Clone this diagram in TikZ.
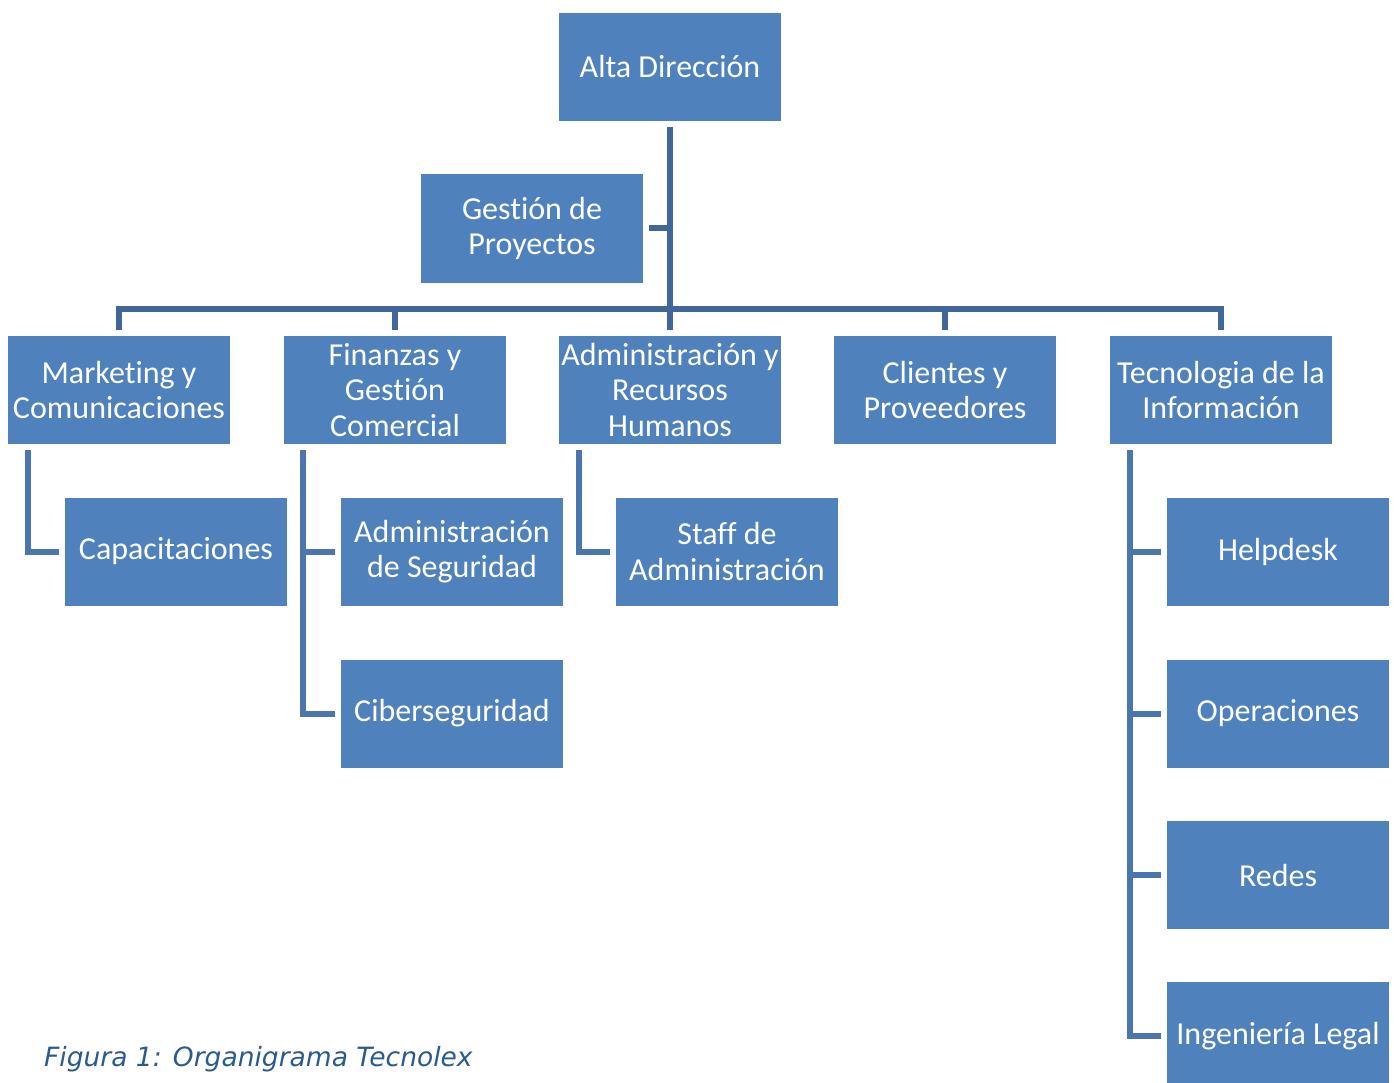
\documentclass[tikz,border=0pt]{standalone}
\usepackage{fontspec}
\setmainfont{Carlito}[RawFeature=-liga]
\newfontfamily\captionfont{DejaVu Sans}
\definecolor{boxfill}{HTML}{4F81BD}
\definecolor{trunk}{HTML}{41679A}
\definecolor{branch}{HTML}{4A76AD}
\definecolor{captxt}{HTML}{2A5A8F}
\begin{document}
\begin{tikzpicture}[x=1pt,y=-1pt,
  unit/.style={rectangle, fill=boxfill, text=white, minimum width=222pt, minimum height=108pt,
    inner sep=0pt, align=center, font=\fontsize{32}{35.5}\selectfont},
  conn/.style={draw=trunk, line width=6pt},
  sub/.style={draw=branch, line width=6pt}]
\useasboundingbox (0,0) rectangle (1394,1083);

% top level
\node[unit] (alta) at (670,67) {Alta Dirección};
\node[unit] (gp) at (532,228.5) {Gestión de\\Proyectos};

% departments
\node[unit] (mk)  at (119,390) {Marketing y\\Comunicaciones};
\node[unit] (fin) at (395,390) {Finanzas y\\Gestión\\Comercial};
\node[unit] (adm) at (670,390) {Administración y\\Recursos\\Humanos};
\node[unit] (cli) at (945,390) {Clientes y\\Proveedores};
\node[unit] (ti)  at (1221,390) {Tecnologia de la\\Información};

% sub-units
\node[unit] (cap)   at (176,551.5) {Capacitaciones};
\node[unit] (aseg)  at (452,551.5) {Administración\\de Seguridad};
\node[unit] (ciber) at (452,713.5) {Ciberseguridad};
\node[unit] (staff) at (727,551.5) {Staff de\\Administración};
\node[unit] (help)  at (1278,551.5) {Helpdesk};
\node[unit] (oper)  at (1278,713.5) {Operaciones};
\node[unit] (redes) at (1278,875) {Redes};
\node[unit] (legal) at (1278,1036) {Ingeniería Legal};

% trunk and bus
\coordinate (bus) at (670,309);
\draw[conn] ([yshift=-6pt]alta.south) -- (bus);
\draw[conn] ([xshift=6pt]gp.east) -- (gp.east -| bus);
\draw[conn] ([yshift=6pt]mk.north) |- (bus) -| ([yshift=6pt]ti.north);
\draw[conn] ([yshift=6pt]fin.north) -- (fin.north |- bus);
\draw[conn] ([yshift=6pt]adm.north) -- (adm.north |- bus);
\draw[conn] ([yshift=6pt]cli.north) -- (cli.north |- bus);

% branches
\draw[sub] ([shift={(20pt,-6pt)}]mk.south west) |- ([xshift=-6pt]cap.west);
\draw[sub] ([shift={(19pt,-6pt)}]fin.south west) |- ([xshift=-6pt]ciber.west);
\draw[sub] ([xshift=-6pt]aseg.west) -- ++(-32pt,0);
\draw[sub] ([shift={(20pt,-6pt)}]adm.south west) |- ([xshift=-6pt]staff.west);
\draw[sub] ([shift={(20pt,-6pt)}]ti.south west) |- ([xshift=-6pt]legal.west);
\draw[sub] ([xshift=-6pt]help.west) -- ++(-32pt,0);
\draw[sub] ([xshift=-6pt]oper.west) -- ++(-32pt,0);
\draw[sub] ([xshift=-6pt]redes.west) -- ++(-32pt,0);

% caption
\node[anchor=base west, inner sep=0pt, text=captxt, font=\captionfont\itshape\fontsize{26.5}{30}\selectfont]
  (cap1) at (44,1066) {Figura 1: Organigrama Tecnolex};
\end{tikzpicture}
\end{document}
